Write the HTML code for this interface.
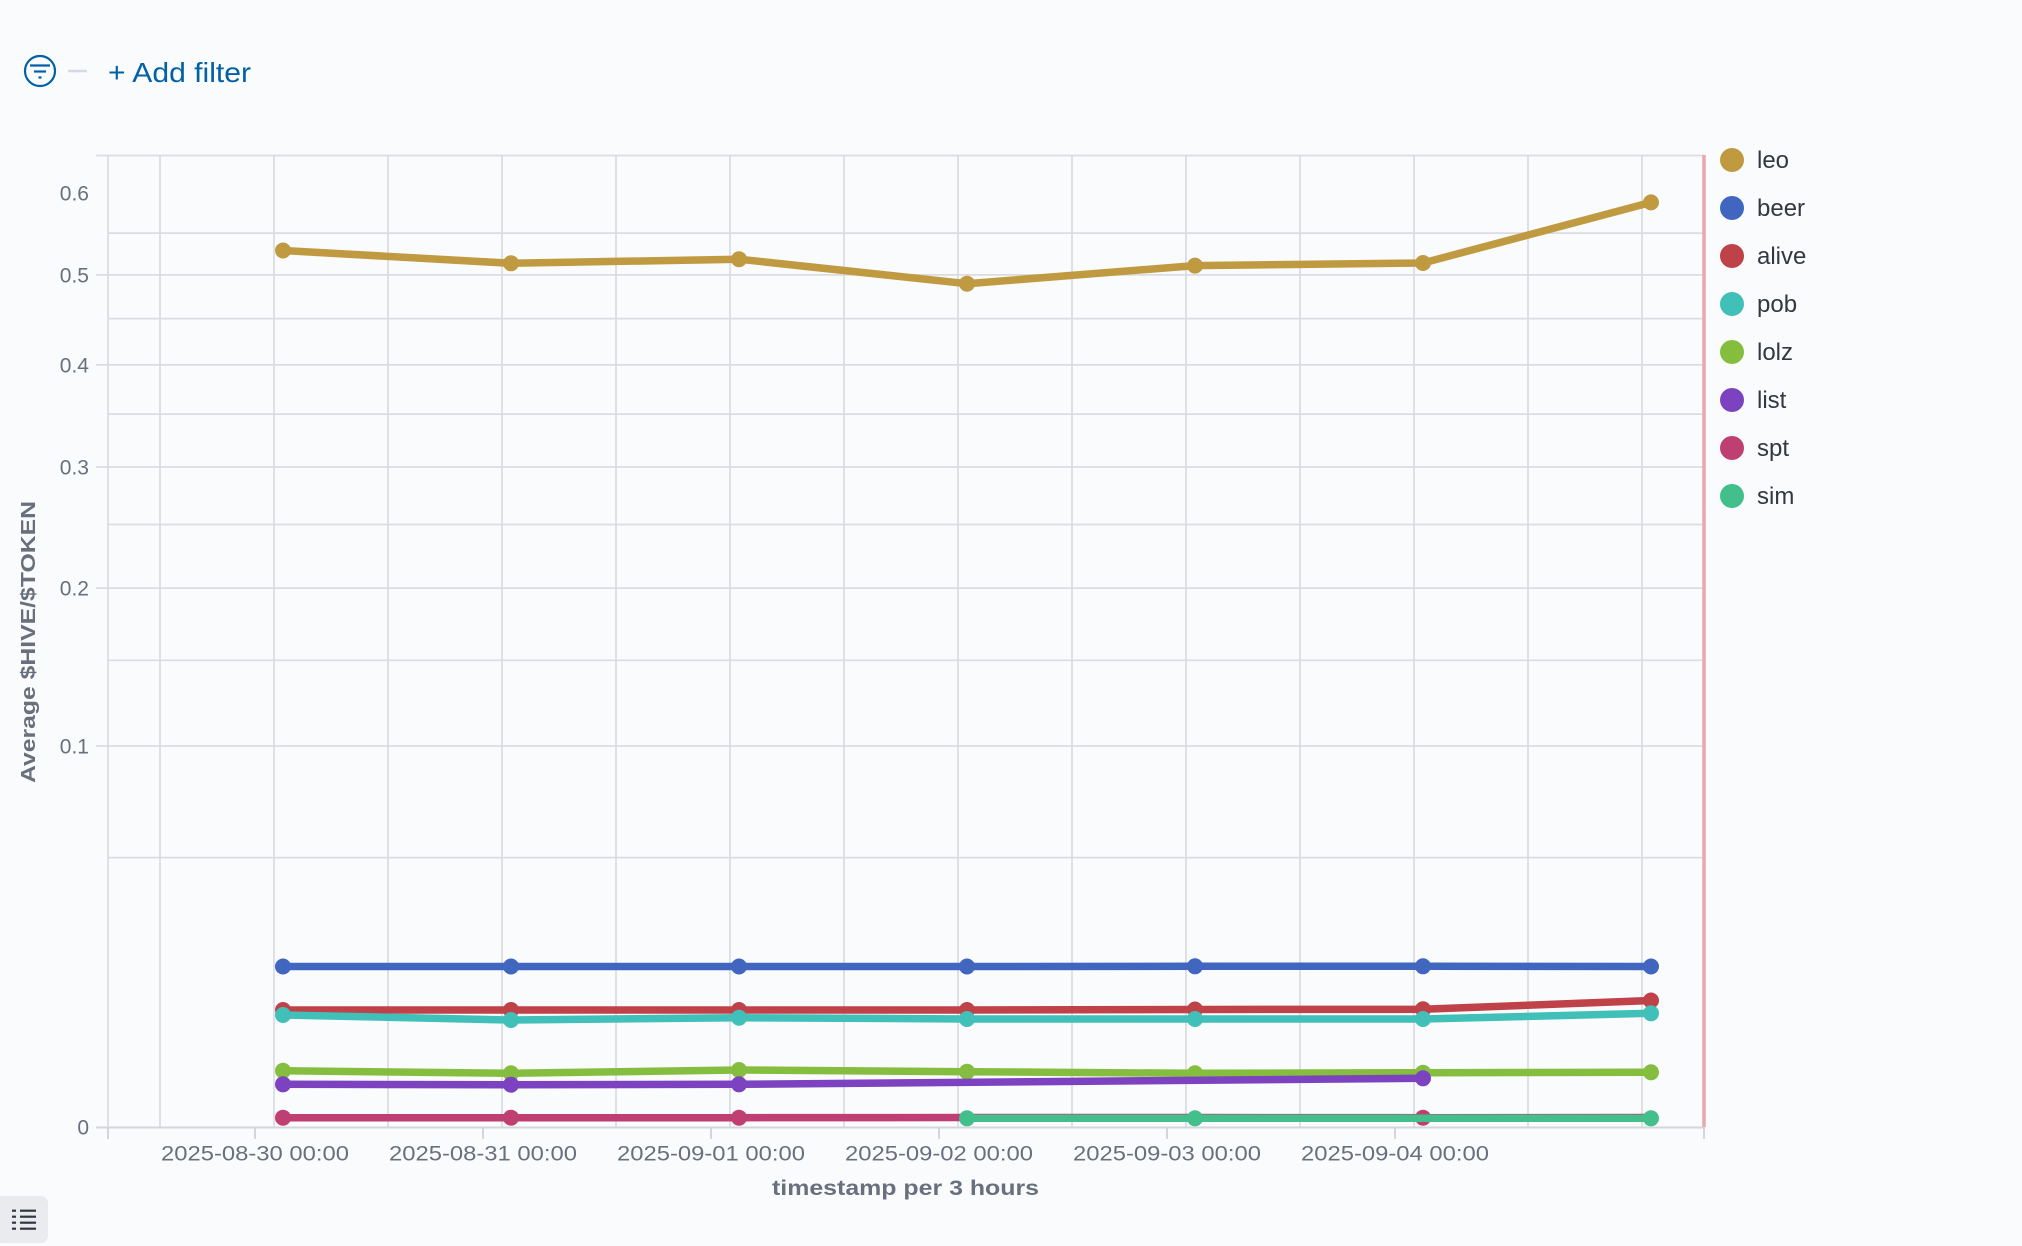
<!DOCTYPE html>
<html>
<head>
<meta charset="utf-8">
<style>
  html,body{margin:0;padding:0;background:#fafbfd;}
  body{width:2022px;height:1246px;overflow:hidden;}
  svg{display:block;}
  text{font-family:"Liberation Sans",sans-serif;}
</style>
</head>
<body>
<svg width="2022" height="1246" viewBox="0 0 2022 1246" xmlns="http://www.w3.org/2000/svg">
  <rect x="0" y="0" width="2022" height="1246" fill="#fafbfd"/>

  <!-- filter bar -->
  <circle cx="40" cy="71" r="15" fill="none" stroke="#0061a6" stroke-width="2.2"/>
  <line x1="30" y1="65.5" x2="50" y2="65.5" stroke="#0061a6" stroke-width="2.2"/>
  <line x1="34" y1="71.5" x2="46" y2="71.5" stroke="#0061a6" stroke-width="2.2"/>
  <line x1="38.5" y1="77.5" x2="41.5" y2="77.5" stroke="#0061a6" stroke-width="2.2"/>
  <line x1="68" y1="71" x2="87" y2="71" stroke="#d3dae6" stroke-width="2.5"/>
  <text x="108" y="82" font-size="28" fill="#0061a6" textLength="143" lengthAdjust="spacingAndGlyphs">+ Add filter</text>

  <!-- horizontal grid lines (sqrt scale) -->
  <g stroke="#dadce1" stroke-width="1.7">
    <line x1="96" y1="155.5" x2="1704" y2="155.5"/>
    <line x1="108" y1="233.1" x2="1704" y2="233.1"/>
    <line x1="96" y1="274.9" x2="1704" y2="274.9"/>
    <line x1="108" y1="318.6" x2="1704" y2="318.6"/>
    <line x1="96" y1="364.9" x2="1704" y2="364.9"/>
    <line x1="108" y1="414.1" x2="1704" y2="414.1"/>
    <line x1="96" y1="467.0" x2="1704" y2="467.0"/>
    <line x1="108" y1="524.5" x2="1704" y2="524.5"/>
    <line x1="96" y1="588.1" x2="1704" y2="588.1"/>
    <line x1="108" y1="660.3" x2="1704" y2="660.3"/>
    <line x1="96" y1="746.0" x2="1704" y2="746.0"/>
    <line x1="108" y1="857.6" x2="1704" y2="857.6"/>
  </g>
  <!-- vertical grid lines -->
  <g stroke="#dadce1" stroke-width="1.7">
    <line x1="108" y1="155" x2="108" y2="1127"/>
    <line x1="160" y1="155" x2="160" y2="1127"/>
    <line x1="274" y1="155" x2="274" y2="1127"/>
    <line x1="388" y1="155" x2="388" y2="1127"/>
    <line x1="502" y1="155" x2="502" y2="1127"/>
    <line x1="616" y1="155" x2="616" y2="1127"/>
    <line x1="730" y1="155" x2="730" y2="1127"/>
    <line x1="844" y1="155" x2="844" y2="1127"/>
    <line x1="958" y1="155" x2="958" y2="1127"/>
    <line x1="1072" y1="155" x2="1072" y2="1127"/>
    <line x1="1186" y1="155" x2="1186" y2="1127"/>
    <line x1="1300" y1="155" x2="1300" y2="1127"/>
    <line x1="1414" y1="155" x2="1414" y2="1127"/>
    <line x1="1528" y1="155" x2="1528" y2="1127"/>
    <line x1="1642" y1="155" x2="1642" y2="1127"/>
  </g>
  <!-- x axis line and ticks -->
  <g stroke="#d3d6db" stroke-width="2">
    <line x1="96" y1="1127.5" x2="1704" y2="1127.5"/>
    <line x1="108" y1="1127" x2="108" y2="1139"/>
    <line x1="255" y1="1127" x2="255" y2="1139"/>
    <line x1="483" y1="1127" x2="483" y2="1139"/>
    <line x1="711" y1="1127" x2="711" y2="1139"/>
    <line x1="939" y1="1127" x2="939" y2="1139"/>
    <line x1="1167" y1="1127" x2="1167" y2="1139"/>
    <line x1="1395" y1="1127" x2="1395" y2="1139"/>
    <line x1="1704" y1="1127" x2="1704" y2="1139"/>
  </g>
  <!-- pink end marker line -->
  <line x1="1704" y1="155" x2="1704" y2="1127" stroke="#eaa8ab" stroke-width="3.5"/>

  <!-- y labels -->
  <g font-size="21" fill="#69707d" text-anchor="end">
    <text x="89" y="200.5">0.6</text>
    <text x="89" y="282.5">0.5</text>
    <text x="89" y="372.5">0.4</text>
    <text x="89" y="474.5">0.3</text>
    <text x="89" y="595.5">0.2</text>
    <text x="89" y="753.5">0.1</text>
    <text x="89" y="1134.5">0</text>
  </g>
  <!-- x labels -->
  <g font-size="21" fill="#69707d" text-anchor="middle">
    <text x="255" y="1160.5" textLength="188" lengthAdjust="spacingAndGlyphs">2025-08-30 00:00</text>
    <text x="483" y="1160.5" textLength="188" lengthAdjust="spacingAndGlyphs">2025-08-31 00:00</text>
    <text x="711" y="1160.5" textLength="188" lengthAdjust="spacingAndGlyphs">2025-09-01 00:00</text>
    <text x="939" y="1160.5" textLength="188" lengthAdjust="spacingAndGlyphs">2025-09-02 00:00</text>
    <text x="1167" y="1160.5" textLength="188" lengthAdjust="spacingAndGlyphs">2025-09-03 00:00</text>
    <text x="1395" y="1160.5" textLength="188" lengthAdjust="spacingAndGlyphs">2025-09-04 00:00</text>
  </g>
  <!-- axis titles -->
  <text x="905.5" y="1195" font-size="21" font-weight="bold" fill="#69707d" text-anchor="middle" textLength="267" lengthAdjust="spacingAndGlyphs">timestamp per 3 hours</text>
  <text transform="translate(35,642) rotate(-90)" font-size="20" font-weight="bold" fill="#69707d" text-anchor="middle" textLength="282" lengthAdjust="spacingAndGlyphs">Average $HIVE/$TOKEN</text>

  <!-- series -->
  <polyline fill="none" stroke="#c09a41" stroke-width="7.5" stroke-linejoin="round" points="283,250.5 511,263.3 739,259.2 967,283.7 1195,265.6 1423,263 1651,202.4"/>
  <g fill="#c09a41">
    <circle cx="283" cy="250.5" r="8"/><circle cx="511" cy="263.3" r="8"/><circle cx="739" cy="259.2" r="8"/><circle cx="967" cy="283.7" r="8"/><circle cx="1195" cy="265.6" r="8"/><circle cx="1423" cy="263" r="8"/><circle cx="1651" cy="202.4" r="8"/>
  </g>
  <!-- beer -->
  <polyline fill="none" stroke="#4066c0" stroke-width="7.5" stroke-linejoin="round" points="283,966.5 511,966.5 739,966.5 967,966.5 1195,966.3 1423,966.3 1651,966.5"/>
  <g fill="#4066c0">
    <circle cx="283" cy="966.5" r="8"/><circle cx="511" cy="966.5" r="8"/><circle cx="739" cy="966.5" r="8"/><circle cx="967" cy="966.5" r="8"/><circle cx="1195" cy="966.3" r="8"/><circle cx="1423" cy="966.3" r="8"/><circle cx="1651" cy="966.5" r="8"/>
  </g>
  <!-- alive -->
  <polyline fill="none" stroke="#bf4248" stroke-width="7.5" stroke-linejoin="round" points="283,1010 511,1010 739,1010 967,1010 1195,1009.5 1423,1009.3 1651,1000.5"/>
  <g fill="#bf4248">
    <circle cx="283" cy="1010" r="8"/><circle cx="511" cy="1010" r="8"/><circle cx="739" cy="1010" r="8"/><circle cx="967" cy="1010" r="8"/><circle cx="1195" cy="1009.5" r="8"/><circle cx="1423" cy="1009.3" r="8"/><circle cx="1651" cy="1000.5" r="8"/>
  </g>
  <!-- pob -->
  <polyline fill="none" stroke="#41bfb9" stroke-width="7.5" stroke-linejoin="round" points="283,1015 511,1020 739,1017.7 967,1019 1195,1019 1423,1019 1651,1013.3"/>
  <g fill="#41bfb9">
    <circle cx="283" cy="1015" r="8"/><circle cx="511" cy="1020" r="8"/><circle cx="739" cy="1017.7" r="8"/><circle cx="967" cy="1019" r="8"/><circle cx="1195" cy="1019" r="8"/><circle cx="1423" cy="1019" r="8"/><circle cx="1651" cy="1013.3" r="8"/>
  </g>
  <!-- lolz -->
  <polyline fill="none" stroke="#85be3f" stroke-width="7.5" stroke-linejoin="round" points="283,1070.7 511,1073.3 739,1070 967,1071.7 1195,1073.3 1423,1072.7 1651,1072.3"/>
  <g fill="#85be3f">
    <circle cx="283" cy="1070.7" r="8"/><circle cx="511" cy="1073.3" r="8"/><circle cx="739" cy="1070" r="8"/><circle cx="967" cy="1071.7" r="8"/><circle cx="1195" cy="1073.3" r="8"/><circle cx="1423" cy="1072.7" r="8"/><circle cx="1651" cy="1072.3" r="8"/>
  </g>
  <!-- list -->
  <polyline fill="none" stroke="#7c42bf" stroke-width="7.5" stroke-linejoin="round" points="283,1084.3 511,1084.7 739,1084.3 1423,1078.3"/>
  <g fill="#7c42bf">
    <circle cx="283" cy="1084.3" r="8"/><circle cx="511" cy="1084.7" r="8"/><circle cx="739" cy="1084.3" r="8"/><circle cx="1423" cy="1078.3" r="8"/>
  </g>
  <!-- spt -->
  <polyline fill="none" stroke="#bf3f72" stroke-width="7.5" stroke-linejoin="round" points="283,1117.7 511,1117.7 739,1117.7 967,1117.5 1195,1117.5 1423,1117.7 1651,1117.5"/>
  <g fill="#bf3f72">
    <circle cx="283" cy="1117.7" r="8"/><circle cx="511" cy="1117.7" r="8"/><circle cx="739" cy="1117.7" r="8"/><circle cx="1423" cy="1117.7" r="8"/>
  </g>
  <!-- sim -->
  <polyline fill="none" stroke="#42bf8b" stroke-width="7.5" stroke-linejoin="round" points="967,1118.3 1195,1118.3 1651,1118.3"/>
  <g fill="#42bf8b">
    <circle cx="967" cy="1118.3" r="8"/><circle cx="1195" cy="1118.3" r="8"/><circle cx="1651" cy="1118.3" r="8"/>
  </g>

  <!-- legend -->
  <g font-size="24" fill="#343741">
    <circle cx="1732" cy="160" r="12" fill="#c09a41"/><text x="1757" y="168">leo</text>
    <circle cx="1732" cy="208" r="12" fill="#4066c0"/><text x="1757" y="216">beer</text>
    <circle cx="1732" cy="256" r="12" fill="#bf4248"/><text x="1757" y="264">alive</text>
    <circle cx="1732" cy="304" r="12" fill="#41bfb9"/><text x="1757" y="312">pob</text>
    <circle cx="1732" cy="352" r="12" fill="#85be3f"/><text x="1757" y="360">lolz</text>
    <circle cx="1732" cy="400" r="12" fill="#7c42bf"/><text x="1757" y="408">list</text>
    <circle cx="1732" cy="448" r="12" fill="#bf3f72"/><text x="1757" y="456">spt</text>
    <circle cx="1732" cy="496" r="12" fill="#42bf8b"/><text x="1757" y="504">sim</text>
  </g>

  <!-- bottom-left legend toggle button -->
  <rect x="-6" y="1196" width="54" height="47" rx="7" fill="#e9ebef"/>
  <g stroke="#343741" stroke-width="2.2">
    <line x1="12" y1="1210.7" x2="16" y2="1210.7"/><line x1="20" y1="1210.7" x2="36" y2="1210.7"/>
    <line x1="12" y1="1216.7" x2="16" y2="1216.7"/><line x1="20" y1="1216.7" x2="36" y2="1216.7"/>
    <line x1="12" y1="1222.7" x2="16" y2="1222.7"/><line x1="20" y1="1222.7" x2="36" y2="1222.7"/>
    <line x1="12" y1="1228.7" x2="16" y2="1228.7"/><line x1="20" y1="1228.7" x2="36" y2="1228.7"/>
  </g>
</svg>
</body>
</html>
